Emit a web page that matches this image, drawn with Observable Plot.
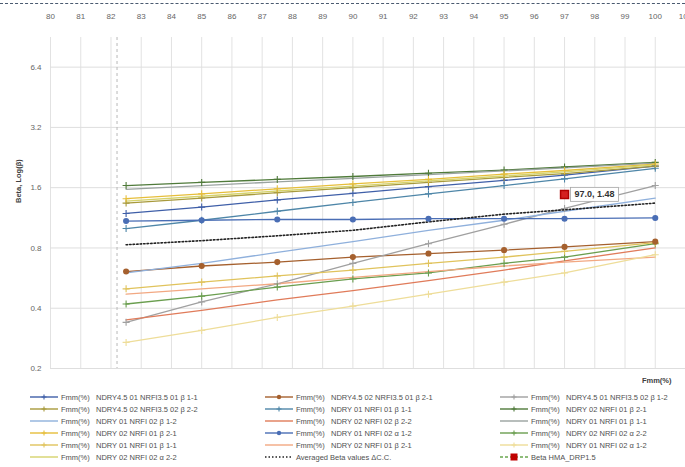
<!DOCTYPE html>
<html><head><meta charset="utf-8">
<script src="https://cdn.jsdelivr.net/npm/d3@7"></script>
<script src="https://cdn.jsdelivr.net/npm/@observablehq/plot@0.6"></script>
<style>
body{margin:0;background:#fff;font-family:"Liberation Sans",Arial,sans-serif;}
#wrap{position:relative;width:685px;height:467px;overflow:hidden;background:#fff;}
#topline{position:absolute;left:0;top:3px;width:685px;border-top:1px dashed #4a5a70;}
#chart{position:absolute;left:0;top:0;}
#legend{position:absolute;left:0;top:390px;width:685px;height:77px;}
.item{position:absolute;font-size:7.5px;color:#505050;white-space:nowrap;display:flex;align-items:center;height:10px;}
.item svg{margin-right:3px;}
</style></head><body>
<div id="wrap"><div id="chart"></div><div id="topline"></div><div id="legend"></div></div>
<script>
// x positions of the measurements (Fmm %)
const xs = [82.5, 85, 87.5, 90, 92.5, 95, 97, 100];
const xTicks = d3.range(80, 102);
const yTicks = [0.2, 0.4, 0.8, 1.6, 3.2, 6.4];
const refX = [82.2];

// legend order (row-major, 3 columns)
const seriesNames = [
  "NDRY4.5 01 NRFI3.5 01 β 1-1",
  "NDRY4.5 02 NRFI3.5 01 β 2-1",
  "NDRY4.5 01 NRFI3.5 02 β 1-2",
  "NDRY4.5 02 NRFI3.5 02 β 2-2",
  "NDRY 01 NRFI 01 β 1-1",
  "NDRY 02 NRFI 01 β 2-1",
  "NDRY 01 NRFI 02 β 1-2",
  "NDRY 02 NRFI 02 β 2-2",
  "NDRY 01 NRFI 01 β 1-1",
  "NDRY 02 NRFI 01 β 2-1",
  "NDRY 01 NRFI 02 α 1-2",
  "NDRY 02 NRFI 02 α 2-2",
  "NDRY 01 NRFI 01 β 1-1",
  "NDRY 02 NRFI 01 β 2-1",
  "NDRY 01 NRFI 02 α 1-2",
  "NDRY 02 NRFI 02 α 2-2"
];
const seriesColors = [
  "#3f5fa8", "#a5602e", "#a0a0a0",
  "#a89a3c", "#4e86a8", "#4f7a3a",
  "#8fb0dc", "#e07b5a", "#9aa3a0",
  "#e6be3a", "#4a6eb5", "#6a9e4f",
  "#e0c35c", "#f2a882", "#eedd99",
  "#d6d36c"
];
const seriesMarkers = [
  "plus", "circle", "plus",
  "plus", "plus", "plus",
  "none", "none", "none",
  "plus", "circle", "plus",
  "plus", "none", "plus",
  "none"
];
const seriesValues = [
  [1.19, 1.28, 1.39, 1.50, 1.62, 1.74, 1.85, 2.05],
  [0.61, 0.65, 0.68, 0.72, 0.75, 0.78, 0.81, 0.86],
  [0.34, 0.43, 0.53, 0.67, 0.84, 1.05, 1.26, 1.64],
  [1.34, 1.42, 1.51, 1.60, 1.70, 1.80, 1.88, 2.05],
  [1.00, 1.10, 1.22, 1.35, 1.49, 1.64, 1.77, 2.00],
  [1.64, 1.70, 1.76, 1.82, 1.89, 1.96, 2.03, 2.14],
  [0.60, 0.67, 0.76, 0.86, 0.98, 1.10, 1.22, 1.42],
  [0.35, 0.39, 0.44, 0.49, 0.55, 0.62, 0.69, 0.80],
  [1.57, 1.64, 1.71, 1.78, 1.86, 1.94, 2.01, 2.12],
  [1.41, 1.49, 1.58, 1.67, 1.76, 1.87, 1.95, 2.10],
  [1.09, 1.10, 1.11, 1.11, 1.12, 1.12, 1.12, 1.13],
  [0.42, 0.46, 0.51, 0.56, 0.60, 0.67, 0.72, 0.84],
  [0.50, 0.54, 0.58, 0.62, 0.67, 0.72, 0.77, 0.85],
  [0.47, 0.50, 0.53, 0.57, 0.61, 0.65, 0.68, 0.72],
  [0.27, 0.31, 0.36, 0.41, 0.47, 0.54, 0.60, 0.74],
  [1.37, 1.45, 1.54, 1.63, 1.73, 1.83, 1.92, 2.08]
];
const avgName = "Averaged Beta values ΔC.C.";
const avgValues = [0.83, 0.87, 0.92, 0.98, 1.08, 1.18, 1.24, 1.34];
const hmaName = "Beta HMA_DRP1.5";
const hmaX = [97.0];
const hmaY = [1.48];
const prefix = "Fmm(%)";

const lineData = [];
seriesValues.forEach((vals, i) => vals.forEach((v, j) => lineData.push({s: i, x: xs[j], y: v})));
const avgData = avgValues.map((v, j) => ({x: xs[j], y: v}));
const hmaData = hmaX.map((x, i) => ({x, y: hmaY[i], label: `${x.toFixed(1)}, ${hmaY[i].toFixed(2)}`}));
const plusData = lineData.filter(d => seriesMarkers[d.s] === "plus");
const circData = lineData.filter(d => seriesMarkers[d.s] === "circle");

const chart = Plot.plot({
  width: 685, height: 390,
  marginLeft: 50, marginRight: 0, marginTop: 37, marginBottom: 22,
  style: {fontFamily: "Liberation Sans, Arial, sans-serif", background: "#fff", overflow: "visible"},
  x: {domain: [80, 101]},
  y: {type: "log", base: 2, domain: [0.2, 9.0]},
  marks: [
    Plot.gridX(xTicks, {stroke: "#e2e2e2", strokeOpacity: 1}),
    Plot.gridY(yTicks, {stroke: "#dedede", strokeOpacity: 1}),
    Plot.ruleX(refX, {stroke: "#b8b8b8", strokeDasharray: "3,3"}),
    Plot.axisX({anchor: "top", ticks: xTicks, tickSize: 0, tickPadding: 19, fontSize: 8, fill: "#666", label: null}),
    Plot.axisY({ticks: yTicks, tickSize: 0, tickPadding: 9, fontSize: 8, fill: "#666", tickFormat: d => d.toFixed(1), label: null}),
    Plot.text(["Beta, Log(β)"], {frameAnchor: "left", dx: -32, rotate: -90, fontSize: 7.5, fontWeight: "bold", fill: "#404040"}),
    Plot.text(["Fmm(%)"], {frameAnchor: "bottom-right", textAnchor: "end", dx: -14, dy: 14, fontSize: 7.5, fontWeight: "bold", fill: "#404040"}),
    Plot.line(lineData, {x: "x", y: "y", z: "s", stroke: d => seriesColors[d.s], strokeWidth: 1.3}),
    Plot.line(avgData, {x: "x", y: "y", stroke: "#222", strokeWidth: 1.6, strokeDasharray: "1.5,2"}),
    Plot.dot(plusData, {x: "x", y: "y", symbol: "plus", r: 2.4, stroke: d => seriesColors[d.s], strokeWidth: 1.1}),
    Plot.dot(circData, {x: "x", y: "y", symbol: "circle", r: 2.3, fill: d => seriesColors[d.s], stroke: d => seriesColors[d.s]}),
    Plot.dot(hmaData, {x: "x", y: "y", symbol: "square", r: 4.5, fill: "#d42020", stroke: "#b00000"}),
    Plot.text(hmaData, {x: "x", y: "y", text: "label", textAnchor: "start", dx: 10, fontSize: 9, fontWeight: "bold", fill: "#333", className: "hmalabel"})
  ]
});
document.getElementById("chart").appendChild(chart);

// box behind the data label
d3.select(chart).selectAll(".hmalabel text").each(function() {
  const b = this.getBBox();
  d3.select(this.parentNode).insert("rect", "text")
    .attr("x", b.x - 4).attr("y", b.y - 2).attr("width", b.width + 8).attr("height", b.height + 4)
    .attr("fill", "#fff").attr("stroke", "#a6a6a6").attr("stroke-width", 0.8)
    .attr("transform", this.getAttribute("transform"));
});

// legend
const legend = document.getElementById("legend");
const colX = [30, 265, 500];
function swatch(color, marker, dash) {
  let m = "";
  if (marker === "plus") m = `<path d="M14,2.5V7.5M11.5,5H16.5" stroke="${color}" stroke-width="1.1"/>`;
  if (marker === "circle") m = `<circle cx="14" cy="5" r="2.2" fill="${color}"/>`;
  if (marker === "square") m = `<rect x="10.5" y="1.5" width="7" height="7" fill="#c00000"/>`;
  return `<svg width="28" height="10"><line x1="0" y1="5" x2="28" y2="5" stroke="${color}" stroke-width="1.4" ${dash ? `stroke-dasharray="${dash}"` : ""}/>${m}</svg>`;
}
const items = seriesNames.map((n, i) => ({html: swatch(seriesColors[i], seriesMarkers[i]) + `<span>${prefix}&nbsp;&nbsp; ${n}</span>`}));
items.push({html: swatch("#222", "none", "1.5,2") + `<span>${avgName}</span>`});
items.push({html: swatch("#6aa84f", "square", "3,2") + `<span>${hmaName}</span>`});
items.forEach((it, k) => {
  const row = Math.floor(k / 3), col = k % 3;
  const div = document.createElement("div");
  div.className = "item";
  div.style.left = colX[col] + "px";
  div.style.top = (2 + row * 12) + "px";
  div.innerHTML = it.html;
  legend.appendChild(div);
});
</script>
</body></html>
